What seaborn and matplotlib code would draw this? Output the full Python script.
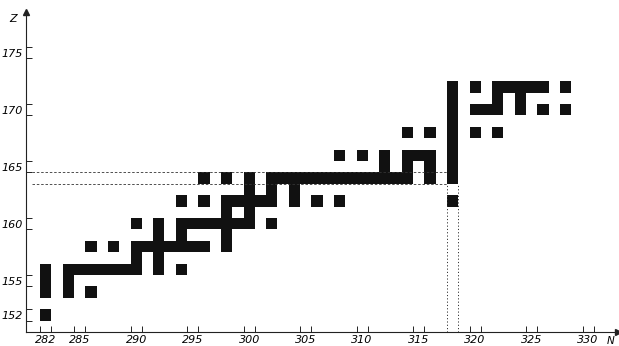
import numpy as np
import pandas as pd
import seaborn as sns
import matplotlib.pyplot as plt
from matplotlib.colors import ListedColormap

# occupied N cells for every Z row
n_z152 = [282]
n_z154 = [282, 284, 286]
n_z155 = [282, 284]
n_z156 = [282, 284, 285, 286, 287, 288, 289, 290, 292, 294]
n_z157 = [290, 292]
n_z158 = [286, 288, 290, 291, 292, 293, 294, 295, 296, 298]
n_z159 = [292, 294, 298]
n_z160 = [290, 292, 294, 295, 296, 297, 298, 299, 300, 302]
n_z161 = [298, 300]
n_z162 = [294, 296, 298, 299, 300, 301, 302, 304, 306, 308, 318]
n_z163 = [300, 302, 304]
n_z164 = [296, 298, 300, 302, 303, 304, 305, 306, 307, 308, 309, 310, 311,
          312, 313, 314, 316, 318]
n_z165 = [312, 314, 316, 318]
n_z166 = [308, 310, 312, 314, 315, 316, 318]
n_z167 = [318]
n_z168 = [314, 316, 318, 320, 322]
n_z169 = [318]
n_z170 = [318, 320, 321, 322, 324, 326, 328]
n_z171 = [318, 322, 324]
n_z172 = [318, 320, 322, 323, 324, 325, 326, 328]

rows = {152: n_z152, 154: n_z154, 155: n_z155, 156: n_z156, 157: n_z157,
        158: n_z158, 159: n_z159, 160: n_z160, 161: n_z161, 162: n_z162,
        163: n_z163, 164: n_z164, 165: n_z165, 166: n_z166, 167: n_z167,
        168: n_z168, 169: n_z169, 170: n_z170, 171: n_z171, 172: n_z172}

# the dashed row / column
z_magic = 164
n_magic = 318

x_ticks = [282, 285, 290, 295, 300, 305, 310, 315, 320, 325, 330]
y_ticks = [152, 155, 160, 165, 170, 175]

df = pd.DataFrame([(n, z) for z, ns in rows.items() for n in ns], columns=['N', 'Z'])

fig = plt.figure(figsize=(6.19, 3.46), dpi=100)
ax = fig.add_axes([26 / 619, 14 / 346, 592 / 619, 320 / 346])

sns.histplot(data=df, x='N', y='Z', discrete=True, cbar=False,
             cmap=ListedColormap(['#111111']), linewidth=0, ax=ax)

ax.set_xlim(280.25, 332.64)
ax.set_ylim(150.5, 178.57)

# dashed guide lines
for z in (z_magic - 0.5, z_magic + 0.5):
    ax.plot([280.8, n_magic - 0.5], [z, z], color='#333333', lw=0.6, ls=(0, (3, 2.2)))
for n in (n_magic - 0.5, n_magic + 0.5):
    ax.plot([n, n], [150.5, z_magic - 0.5], color='#333333', lw=0.7, ls=(0, (1.2, 2.2)))

# axes look
for s in ('top', 'right'):
    ax.spines[s].set_visible(False)
for s in ('left', 'bottom'):
    ax.spines[s].set_linewidth(0.8)
    ax.spines[s].set_color('#222222')
ax.plot(1, 0, marker='>', ms=5, color='#222222', transform=ax.transAxes, clip_on=False)
ax.plot(0, 1, marker='^', ms=5, color='#222222', transform=ax.transAxes, clip_on=False)

ax.set_xticks(x_ticks)
ax.set_yticks(y_ticks)
ax.set_xticks([t + d for t in x_ticks for d in (-0.5, 0.5)], minor=True)
ax.set_yticks([t + d for t in y_ticks for d in (-0.5, 0.5)], minor=True)
ax.set_xticklabels([str(t) for t in x_ticks], fontsize=8, style='italic')
ax.set_yticklabels([str(t) for t in y_ticks], fontsize=8, style='italic')
ax.tick_params(which='major', length=0, pad=2.5)
ax.tick_params(which='minor', length=4, width=0.7, direction='in', color='#222222')
ax.set_xlabel('')
ax.set_ylabel('')

fig.text(13.5 / 619, 1 - 19 / 346, 'Z', ha='center', va='center', style='italic', fontsize=8)
fig.text(611 / 619, 1 - 341 / 346, 'N', ha='center', va='center', style='italic', fontsize=7.5)

fig.savefig('out.png', dpi=100, facecolor='white')
